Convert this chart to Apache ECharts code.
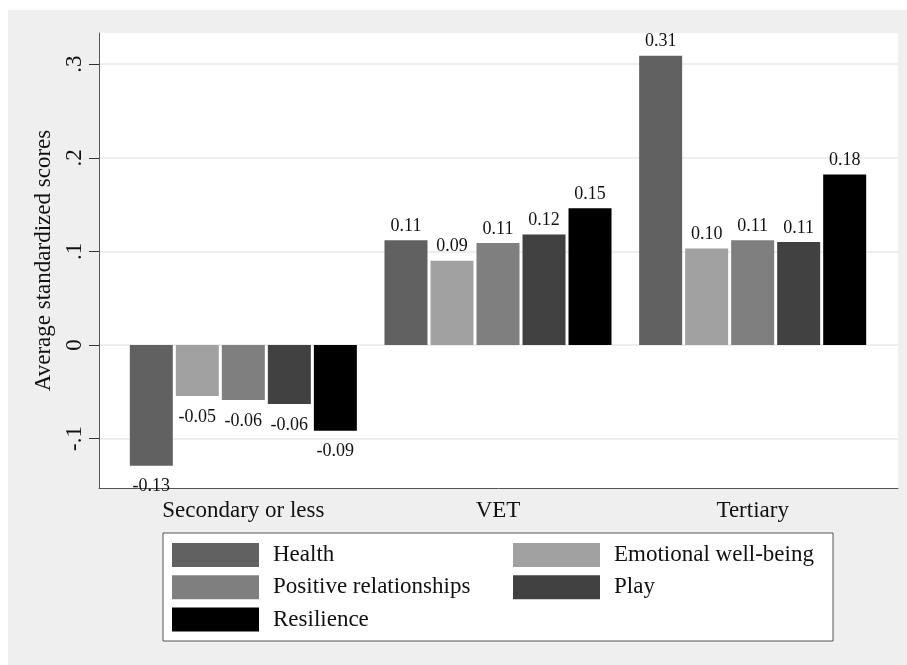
<!DOCTYPE html>
<html>
<head>
<meta charset="utf-8">
<script src="https://cdn.jsdelivr.net/npm/echarts@6/dist/echarts.min.js"></script>
<style>html,body{margin:0;padding:0;background:#fff}#c{width:907px;height:665px}</style>
</head>
<body>
<div id="c"></div>
<script>
const categories = ['Secondary or less', 'VET', 'Tertiary'];
const seriesNames = ['Health', 'Emotional well-being', 'Positive relationships', 'Play', 'Resilience'];
const health = [-0.129, 0.112, 0.309];
const emotional = [-0.0545, 0.090, 0.103];
const positive = [-0.0588, 0.109, 0.112];
const play = [-0.063, 0.118, 0.110];
const resilience = [-0.0916, 0.146, 0.182];
const yTickValues = [-0.1, 0, 0.1, 0.2, 0.3];
const yTickLabels = ['-.1', '0', '.1', '.2', '.3'];
const colors = ['#616161', '#a1a1a1', '#7f7f7f', '#414141', '#000000'];

const allValues = [health, emotional, positive, play, resilience];
const FONT = 'Liberation Serif';
const yMin = -0.1528, yMax = 0.3333;

const series = allValues.map((vals, i) => ({
  name: seriesNames[i],
  type: 'bar',
  xAxisIndex: 1,
  yAxisIndex: 1,
  barWidth: 43,
  barGap: '7%',
  itemStyle: { color: colors[i] },
  label: {
    show: true,
    fontFamily: FONT,
    fontSize: 18,
    color: '#111',
    distance: 5,
    formatter: p => p.value.toFixed(2)
  },
  data: vals.map(v => ({ value: v, label: v < 0 ? { position: 'bottom', distance: 12 } : { position: 'top', distance: 5 } }))
}));

const chart = echarts.init(document.getElementById('c'), null, { renderer: 'canvas' });
chart.setOption({
  backgroundColor: '#ffffff',
  animation: false,
  textStyle: { fontFamily: FONT },
  graphic: [
    { type: 'rect', z: -100, shape: { x: 8, y: 10, width: 899, height: 655 }, style: { fill: '#efefef' } },
    { type: 'rect', z: 0, shape: { x: 163, y: 533, width: 670, height: 108 }, style: { fill: '#ffffff', stroke: '#555', lineWidth: 1 } }
  ],
  grid: [
    { left: 99, right: 9, top: 33, bottom: 177, show: true, backgroundColor: '#ffffff', borderWidth: 0 },
    { left: 116, right: 27, top: 33, bottom: 177 }
  ],
  xAxis: [
    { gridIndex: 0, type: 'value', min: 0, max: 1, axisLine: { show: true, onZero: false, lineStyle: { color: '#555', width: 1 } }, axisTick: { show: false }, axisLabel: { show: false }, splitLine: { show: false } },
    { gridIndex: 1, type: 'category', data: categories, axisLine: { show: false }, axisTick: { show: false },
      axisLabel: { fontFamily: FONT, fontSize: 23, color: '#111', margin: 11 } }
  ],
  yAxis: [
    { gridIndex: 0, type: 'value', min: yMin, max: yMax,
      name: 'Average standardized scores', nameLocation: 'middle', nameGap: 40, nameRotate: 90,
      nameTextStyle: { fontFamily: FONT, fontSize: 23, color: '#111' },
      axisLine: { show: true, lineStyle: { color: '#555', width: 1 } },
      axisTick: { show: true, length: 10, customValues: yTickValues, lineStyle: { color: '#333' } },
      axisLabel: { customValues: yTickValues, rotate: 90, margin: 13, fontFamily: FONT, fontSize: 23, color: '#111',
        formatter: v => { const i = yTickValues.findIndex(t => Math.abs(t - v) < 1e-9); return i >= 0 ? yTickLabels[i] : ''; } },
      splitLine: { show: true, lineStyle: { color: '#e8e8e8', width: 1.5 } }
    },
    { gridIndex: 1, type: 'value', min: yMin, max: yMax, show: false, splitLine: { show: false } }
  ],
  legend: [
    { data: ['Health', 'Positive relationships', 'Resilience'], orient: 'vertical', left: 172, top: 543, padding: 0,
      itemWidth: 87, itemHeight: 24, itemGap: 8.3, icon: 'rect',
      textStyle: { fontFamily: FONT, fontSize: 23, color: '#111', padding: [0, 0, 0, 9] } },
    { data: ['Emotional well-being', 'Play'], orient: 'vertical', left: 513, top: 543, padding: 0,
      itemWidth: 87, itemHeight: 24, itemGap: 8.3, icon: 'rect',
      textStyle: { fontFamily: FONT, fontSize: 23, color: '#111', padding: [0, 0, 0, 9] } }
  ],
  series: series
});
</script>
</body>
</html>
